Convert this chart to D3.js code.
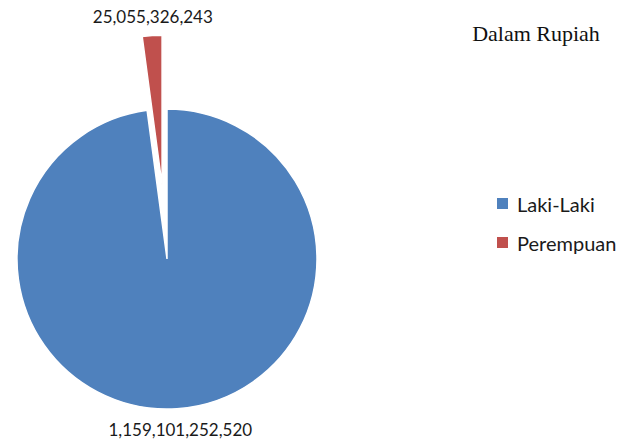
<!DOCTYPE html>
<html>
<head>
<meta charset="utf-8">
<script src="https://cdn.jsdelivr.net/npm/d3@7"></script>
<style>
  body { margin: 0; background: #fff; }
  svg { display: block; }
</style>
</head>
<body>
<div id="vis"></div>
<script>
// frame
const FRAME_WIDTH = 634;
const FRAME_HEIGHT = 443;

// data
const categories = ["Laki-Laki", "Perempuan"];
const values = [1159101252520, 25055326243];
const colors = ["#4F81BD", "#C0504D"];
const explode = [0, 74];   // offset of each slice from centre
const title = "Dalam Rupiah";

const CX = 167, CY = 259, R = 150;

const svg = d3.select("#vis")
  .append("svg")
    .attr("width", FRAME_WIDTH)
    .attr("height", FRAME_HEIGHT);

const pie = d3.pie().sort(null).value(d => d.v);
const arc = d3.arc().innerRadius(0).outerRadius(R);

const slices = pie(categories.map((c, i) => ({c: c, v: values[i], i: i})));

const fmt = d3.format(",.0f");

const g = svg.append("g").attr("transform", "translate(" + CX + "," + CY + ")");

// direction of slice bisector (0 = up, clockwise)
function dir(s) {
  const a = (s.startAngle + s.endAngle) / 2;
  return [Math.sin(a), -Math.cos(a)];
}

g.selectAll("path.slice")
  .data(slices)
  .enter()
  .append("path")
    .attr("class", "slice")
    .attr("d", arc)
    .attr("fill", d => colors[d.data.i])
    .attr("stroke", "#fff")
    .attr("stroke-width", 1.5)
    .attr("transform", d => {
      const v = dir(d), o = explode[d.data.i];
      return "translate(" + (v[0] * o) + "," + (v[1] * o) + ")";
    });

// value labels
g.selectAll("text.val")
  .data(slices)
  .enter()
  .append("text")
    .attr("class", "val")
    .attr("x", d => dir(d)[0] * (explode[d.data.i] + R + 20) + 2)
    .attr("y", d => dir(d)[1] * (explode[d.data.i] + R + 20) + 1)
    .attr("text-anchor", "middle")
    .attr("dominant-baseline", "central")
    .attr("font-family", "Lato, 'Open Sans', sans-serif")
    .attr("font-size", "17px")
    .attr("fill", "#1a1a1a")
    .text(d => fmt(d.data.v));

// title
svg.append("text")
  .attr("x", 536)
  .attr("y", 41)
  .attr("text-anchor", "middle")
  .attr("font-family", "'Liberation Serif', 'Times New Roman', serif")
  .attr("font-size", "22px")
  .attr("fill", "#111")
  .text(title);

// legend
const legend = svg.selectAll("g.leg")
  .data(categories)
  .enter()
  .append("g")
    .attr("class", "leg")
    .attr("transform", (d, i) => "translate(497," + (198 + i * 39) + ")");

legend.append("rect")
  .attr("width", 11)
  .attr("height", 11)
  .attr("fill", (d, i) => colors[i]);

legend.append("text")
  .attr("x", 20)
  .attr("y", 6)
  .attr("dominant-baseline", "central")
  .attr("font-family", "Lato, 'Open Sans', sans-serif")
  .attr("font-size", "20px")
  .attr("fill", "#1a1a1a")
  .text(d => d);
</script>
</body>
</html>
